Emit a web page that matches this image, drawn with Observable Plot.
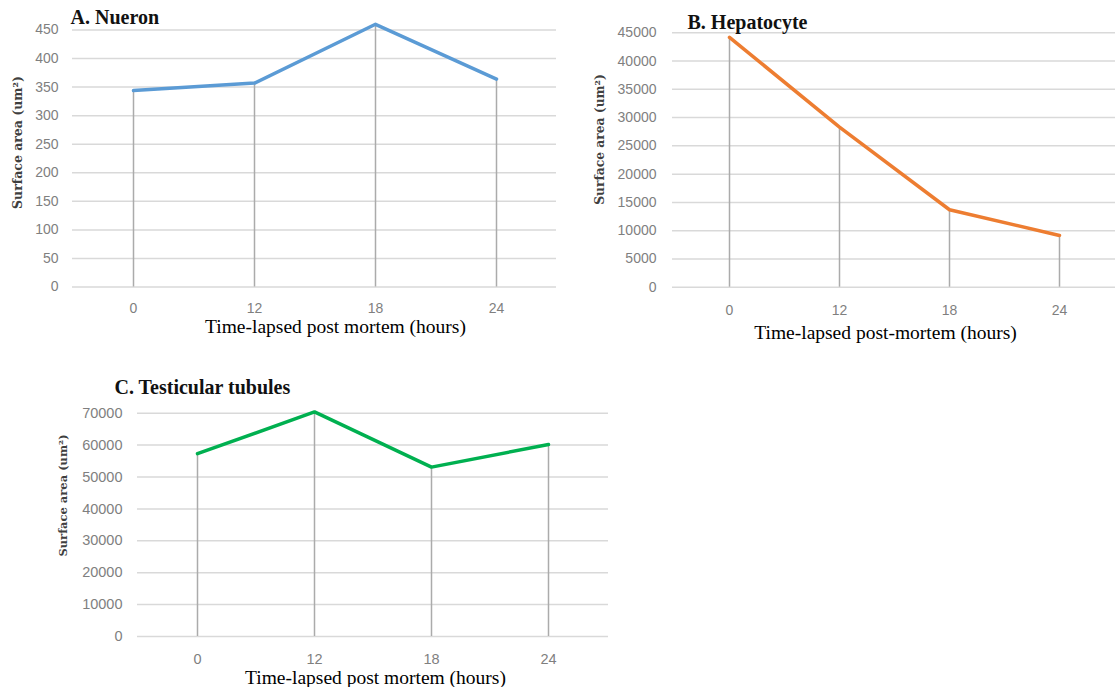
<!DOCTYPE html>
<html>
<head>
<meta charset="utf-8">
<script src="https://cdn.jsdelivr.net/npm/d3@7"></script>
<script src="https://cdn.jsdelivr.net/npm/@observablehq/plot@0.6"></script>
<style>
  html, body { margin: 0; padding: 0; background: #fff; }
  #chart { position: relative; width: 1117px; height: 687px; overflow: hidden; background: #fff; }
  #chart > .panel { position: absolute; }
</style>
</head>
<body>
<div id="chart"></div>
<script>
// Time points (hours post mortem)
const hours = ["0", "12", "18", "24"];

// Mean surface area (um²) per tissue
const neuronArea = [344, 357, 460, 364];
const hepatocyteArea = [44200, 28300, 13700, 9150];
const testicularArea = [57300, 70400, 53100, 60200];

// Y-axis tick values
const neuronTicks = [0, 50, 100, 150, 200, 250, 300, 350, 400, 450];
const hepatocyteTicks = [0, 5000, 10000, 15000, 20000, 25000, 30000, 35000, 40000, 45000];
const testicularTicks = [0, 10000, 20000, 30000, 40000, 50000, 60000, 70000];

const yTitle = "Surface area (um²)";

function panel(cfg) {
  const {values, ticks, color, title, xTitle, box, frame} = cfg;
  const rows = hours.map((h, i) => ({hour: h, area: values[i]}));
  const ml = frame.left - box.left;
  const mr = box.left + box.width - frame.right;
  const mt = frame.top - box.top;
  const mb = box.top + box.height - frame.bottom;
  // text marks are anchored at the frame's top-left corner
  const at = (px, py) => ({frameAnchor: "top-left", dx: px - frame.left, dy: py - frame.top});

  const svg = Plot.plot({
    width: box.width,
    height: box.height,
    marginLeft: ml,
    marginRight: mr,
    marginTop: mt,
    marginBottom: mb,
    style: {
      background: "transparent",
      fontFamily: "'Liberation Sans', Arial, sans-serif",
      fontSize: cfg.tickSize + "px",
      color: "#7f7f7f",
      overflow: "visible"
    },
    x: {type: "point", domain: hours, padding: 0.5, label: null, tickSize: 0, tickPadding: cfg.xTickPad},
    y: {domain: [0, ticks[ticks.length - 1]], ticks, tickFormat: d => String(d), label: null, tickSize: 0, tickPadding: cfg.yTickPad},
    marks: [
      Plot.gridY(ticks, {stroke: "#d9d9d9", strokeOpacity: 1, strokeWidth: 1.5}),
      Plot.ruleX(rows, {x: "hour", y1: 0, y2: "area", stroke: "#ababab", strokeWidth: 1.5}),
      Plot.line(rows, {x: "hour", y: "area", stroke: color, strokeWidth: 3.5, strokeLinejoin: "round", strokeLinecap: "round"}),
      Plot.text([title], {
        ...at(cfg.titleAt[0], cfg.titleAt[1]), text: d => d,
        textAnchor: "start", lineAnchor: "bottom",
        fontFamily: "'Liberation Serif', 'Times New Roman', serif",
        fontWeight: "bold", fontSize: 20, fill: "#111"
      }),
      Plot.text([yTitle], {
        ...at(cfg.yTitleAt[0], cfg.yTitleAt[1]), text: d => d,
        rotate: -90, textAnchor: "middle", lineAnchor: "middle",
        fontFamily: "'DejaVu Serif', serif",
        fontWeight: "bold", fontSize: cfg.yTitleSize, fill: "#3f3f3f"
      }),
      Plot.text([xTitle], {
        ...at(cfg.xTitleAt[0], cfg.xTitleAt[1]), text: d => d,
        textAnchor: "middle", lineAnchor: "bottom",
        fontFamily: "'Liberation Serif', 'Times New Roman', serif",
        fontSize: 19.5, fill: "#000"
      })
    ]
  });

  const wrap = document.createElement("div");
  wrap.className = "panel";
  wrap.style.left = box.left + "px";
  wrap.style.top = box.top + "px";
  wrap.appendChild(svg);
  document.getElementById("chart").appendChild(wrap);
}

panel({
  values: neuronArea, ticks: neuronTicks, color: "#5b9bd5",
  title: "A. Nueron", xTitle: "Time-lapsed post mortem (hours)",
  box: {left: 0, top: 0, width: 565, height: 345},
  frame: {left: 72, right: 556, top: 29.5, bottom: 286.5},
  tickSize: 14, yTickPad: 14, xTickPad: 16,
  titleAt: [70, 23], yTitleAt: [17, 142], xTitleAt: [335, 332], yTitleSize: 12.5
});

panel({
  values: hepatocyteArea, ticks: hepatocyteTicks, color: "#ed7d31",
  title: "B. Hepatocyte", xTitle: "Time-lapsed post-mortem (hours)",
  box: {left: 580, top: 0, width: 537, height: 350},
  frame: {left: 672, right: 1115, top: 32.3, bottom: 286.7},
  tickSize: 14, yTickPad: 16, xTickPad: 18,
  titleAt: [687, 28], yTitleAt: [600, 139], xTitleAt: [885, 338], yTitleSize: 12.3
});

panel({
  values: testicularArea, ticks: testicularTicks, color: "#00b050",
  title: "C. Testicular tubules", xTitle: "Time-lapsed post mortem (hours)",
  box: {left: 40, top: 365, width: 577, height: 322},
  frame: {left: 137, right: 608, top: 412.7, bottom: 636},
  tickSize: 14.5, yTickPad: 15, xTickPad: 17,
  titleAt: [114, 393], yTitleAt: [63, 495], xTitleAt: [375, 683], yTitleSize: 11.5
});
</script>
</body>
</html>
